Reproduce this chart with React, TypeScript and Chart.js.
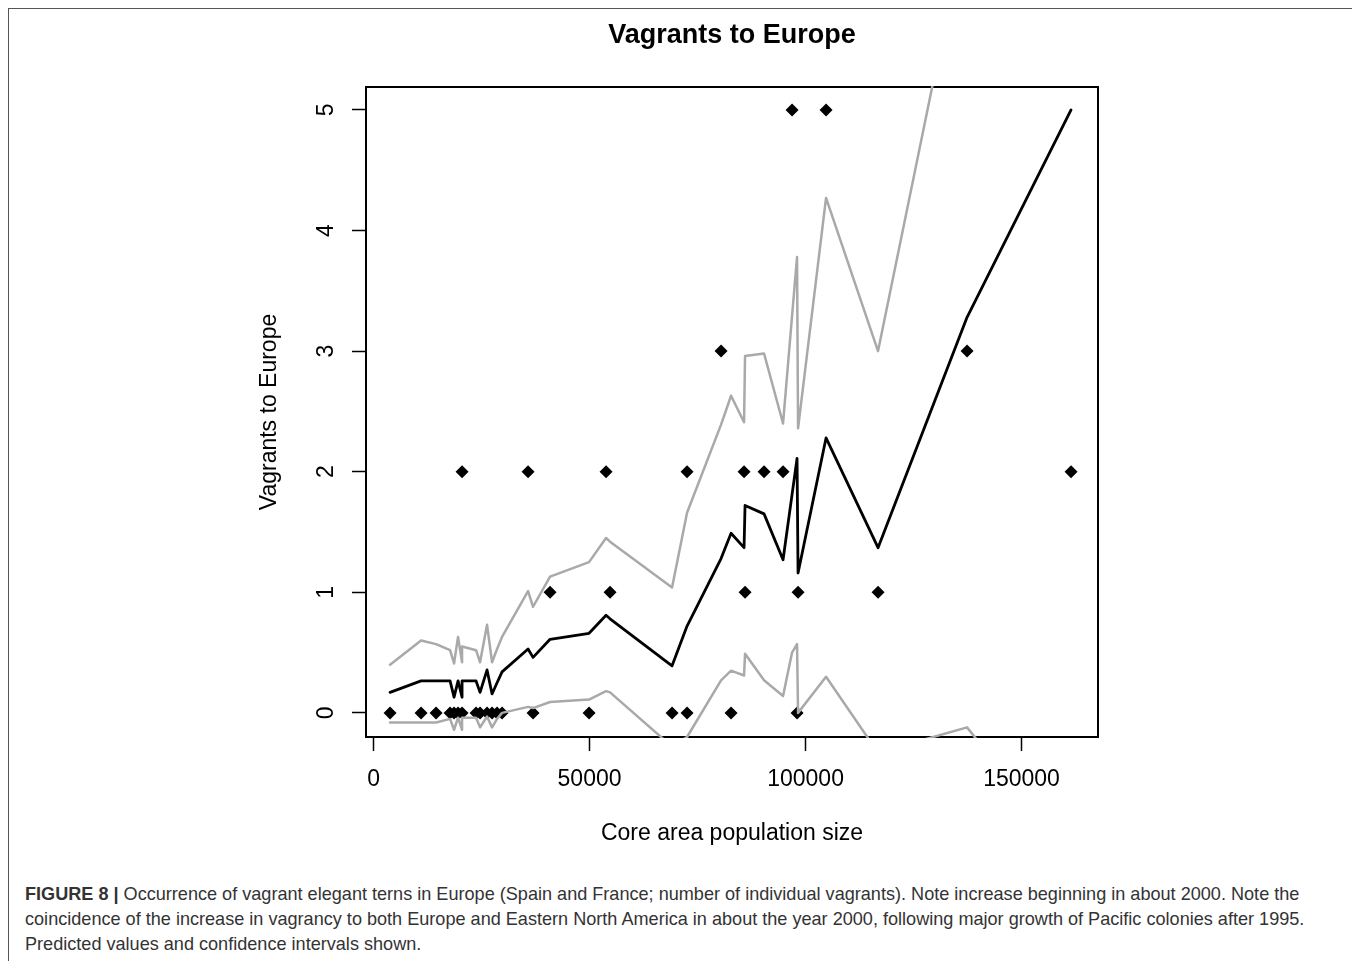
import React, { useEffect, useRef } from "react";
import { Chart, registerables } from "chart.js";

Chart.register(...registerables);

const FONT = '"Liberation Sans", Arial, Helvetica, sans-serif';

const chartTitle = "Vagrants to Europe";
const xAxisTitle = "Core area population size";
const yAxisTitle = "Vagrants to Europe";

const xTickValues = [0, 50000, 100000, 150000];
const yTickValues = [0, 1, 2, 3, 4, 5];
const xMin = -1750;
const xMax = 167700;
const yMin = -0.2;
const yMax = 5.19;

// Observed counts (x = core area population size), grouped by number of vagrants
const obs0X = [3819, 10995, 14468, 17708, 18634, 19560, 20486, 23727, 24653, 26273, 27431, 28588, 29745, 36921, 49884, 69097, 72569, 82755, 98032];
const obs1X = [40856, 54745, 85995, 98264, 116782];
const obs2X = [20486, 35764, 53819, 72569, 85764, 90394, 94792, 161458];
const obs3X = [80440, 137384];
const obs5X = [96875, 104745];

// Predicted values and confidence limits (sorted by population size)
const fitX = [3819, 10995, 14468, 17708, 18634, 19560, 20486, 20486, 23727, 24653, 26273, 27431, 28588, 29745, 35764, 36921, 40856, 49884, 53819, 54745, 69097, 72569, 80440, 82755, 85764, 85995, 90394, 94792, 96875, 98032, 98264, 104745, 116782, 137384, 161458];
const fitY = [0.17, 0.265, 0.265, 0.265, 0.13, 0.265, 0.13, 0.265, 0.265, 0.17, 0.356, 0.157, 0.25, 0.34, 0.53, 0.46, 0.61, 0.66, 0.81, 0.78, 0.39, 0.72, 1.28, 1.49, 1.37, 1.72, 1.65, 1.27, 1.81, 2.11, 1.16, 2.28, 1.37, 3.28, 5.0];
const upperY = [0.40, 0.60, 0.57, 0.52, 0.41, 0.63, 0.42, 0.55, 0.52, 0.42, 0.73, 0.42, 0.53, 0.63, 1.01, 0.88, 1.13, 1.25, 1.45, 1.42, 1.04, 1.66, 2.39, 2.63, 2.41, 2.96, 2.98, 2.40, 3.29, 3.78, 2.36, 4.27, 3.0, 6.6, 9.5];
const lowerY = [-0.08, -0.08, -0.08, -0.05, -0.14, -0.04, -0.14, -0.04, -0.04, -0.12, -0.03, -0.12, -0.05, 0.0, 0.05, 0.04, 0.09, 0.11, 0.18, 0.17, -0.28, -0.2, 0.27, 0.35, 0.31, 0.49, 0.27, 0.14, 0.50, 0.57, 0.0, 0.30, -0.33, -0.12, -1.2];

const CANVAS_W = 1343;
const CANVAS_H = 850;
const Y_AXIS_W = 357;
const X_AXIS_H = 110;
const Y_TICK_LABEL_BASE = 324;
const Y_TITLE_BASE = 267;

const rPlotFrame = {
  id: "rPlotFrame",
  beforeDatasetsDraw(chart: any) {
    const { ctx, chartArea: a } = chart;
    ctx.save();
    ctx.strokeStyle = "#000";
    ctx.lineWidth = 2;
    ctx.strokeRect(a.left, a.top, a.right - a.left, a.bottom - a.top);
    ctx.restore();
  },
  afterDraw(chart: any) {
    const { ctx, chartArea: a, scales } = chart;
    const ys = scales.y;
    ctx.save();
    ctx.fillStyle = "#000";
    ctx.font = `23px ${FONT}`;
    ctx.textAlign = "center";
    ctx.textBaseline = "alphabetic";
    for (const v of yTickValues) {
      const py = ys.getPixelForValue(v);
      ctx.save();
      ctx.translate(Y_TICK_LABEL_BASE, py);
      ctx.rotate(-Math.PI / 2);
      ctx.fillText(String(v), 0, 0);
      ctx.restore();
    }
    ctx.save();
    ctx.translate(Y_TITLE_BASE, (a.top + a.bottom) / 2);
    ctx.rotate(-Math.PI / 2);
    ctx.fillText(yAxisTitle, 0, 0);
    ctx.restore();
    ctx.restore();
  },
};

export default function App() {
  const canvasRef = useRef<HTMLCanvasElement | null>(null);

  useEffect(() => {
    const canvas = canvasRef.current;
    if (!canvas) return;
    const toPts = (xs: number[], ys: number[]) => xs.map((x, i) => ({ x, y: ys[i] }));
    const observed = [
      ...obs0X.map((x) => ({ x, y: 0 })),
      ...obs1X.map((x) => ({ x, y: 1 })),
      ...obs2X.map((x) => ({ x, y: 2 })),
      ...obs3X.map((x) => ({ x, y: 3 })),
      ...obs5X.map((x) => ({ x, y: 5 })),
    ];
    const lineCommon = {
      showLine: true,
      pointRadius: 0,
      tension: 0,
      fill: false,
      borderJoinStyle: "round" as const,
      borderCapStyle: "round" as const,
      clip: 1,
    };
    const chart = new Chart(canvas, {
      type: "scatter",
      data: {
        datasets: [
          { label: "Predicted", data: toPts(fitX, fitY), borderColor: "#000", borderWidth: 2.8, ...lineCommon },
          { label: "Upper CI", data: toPts(fitX, upperY), borderColor: "#a9a9a9", borderWidth: 2.5, ...lineCommon },
          { label: "Lower CI", data: toPts(fitX, lowerY), borderColor: "#a9a9a9", borderWidth: 2.5, ...lineCommon },
          {
            label: "Observed",
            data: observed,
            showLine: false,
            pointStyle: "rectRot",
            pointRadius: 6.5,
            backgroundColor: "#000",
            borderColor: "#000",
            borderWidth: 0,
            clip: false,
          },
        ],
      } as any,
      options: {
        responsive: false,
        animation: false,
        events: [],
        layout: { padding: { left: 0, right: CANVAS_W - Y_AXIS_W - 732, top: 0, bottom: CANVAS_H - 728 - X_AXIS_H } },
        plugins: {
          legend: { display: false },
          tooltip: { enabled: false },
          title: {
            display: true,
            text: chartTitle,
            fullSize: false,
            color: "#000",
            font: { family: FONT, size: 27, weight: "bold", lineHeight: 1.2 },
            padding: { top: 10, bottom: 35.6 },
          },
        },
        scales: {
          x: {
            type: "linear",
            position: "bottom",
            min: xMin,
            max: xMax,
            afterBuildTicks: (s: any) => {
              s.ticks = xTickValues.map((v) => ({ value: v }));
            },
            afterFit: (s: any) => {
              s.height = X_AXIS_H;
            },
            grid: { drawOnChartArea: false, drawTicks: true, tickLength: 14, tickColor: "#000", tickWidth: 1.5 },
            border: { display: false },
            ticks: {
              color: "#000",
              font: { family: FONT, size: 23 },
              padding: 15,
              maxRotation: 0,
              autoSkip: false,
              callback: (v: any) => String(v),
            },
            title: {
              display: true,
              text: xAxisTitle,
              color: "#000",
              font: { family: FONT, size: 23 },
              padding: { top: 0, bottom: 0 },
            },
          },
          y: {
            type: "linear",
            position: "left",
            min: yMin,
            max: yMax,
            afterBuildTicks: (s: any) => {
              s.ticks = yTickValues.map((v) => ({ value: v }));
            },
            afterFit: (s: any) => {
              s.width = Y_AXIS_W;
            },
            grid: { drawOnChartArea: false, drawTicks: true, tickLength: 14, tickColor: "#000", tickWidth: 1.5 },
            border: { display: false },
            ticks: { display: false },
          },
        },
      } as any,
      plugins: [rPlotFrame],
    });
    return () => chart.destroy();
  }, []);

  return (
    <div
      style={{
        position: "relative",
        width: 1345,
        height: 960,
        border: "1px solid #555",
        boxSizing: "border-box",
        background: "#fff",
      }}
    >
      <canvas
        ref={canvasRef}
        width={CANVAS_W}
        height={CANVAS_H}
        style={{ position: "absolute", left: 0, top: 0, width: CANVAS_W, height: CANVAS_H }}
      />
      <div
        style={{
          position: "absolute",
          left: 16,
          top: 873,
          fontFamily: FONT,
          fontSize: 18.1,
          lineHeight: "25px",
          color: "#333",
          whiteSpace: "nowrap",
        }}
      >
        <b>FIGURE 8 |</b> Occurrence of vagrant elegant terns in Europe (Spain and France; number of individual vagrants). Note increase beginning in about 2000. Note the
        <br />
        coincidence of the increase in vagrancy to both Europe and Eastern North America in about the year 2000, following major growth of Pacific colonies after 1995.
        <br />
        Predicted values and confidence intervals shown.
      </div>
    </div>
  );
}
